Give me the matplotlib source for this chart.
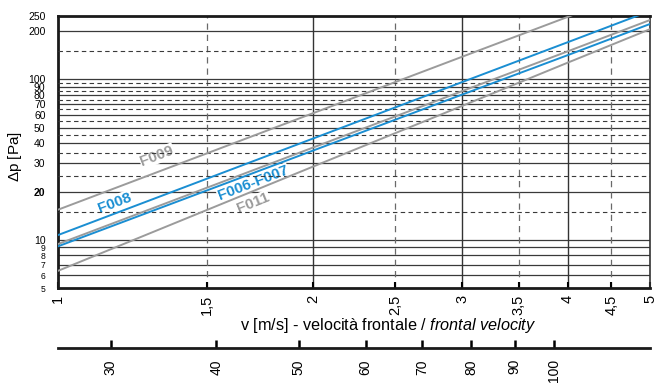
import matplotlib
matplotlib.use('Agg')
import matplotlib.pyplot as plt
from matplotlib.ticker import NullLocator

plt.rcParams['font.family'] = ['Liberation Sans', 'DejaVu Sans']
plt.rcParams['mathtext.fontset'] = 'custom'
plt.rcParams['mathtext.rm'] = 'Liberation Sans'
plt.rcParams['mathtext.it'] = 'Liberation Sans:italic'

# data (pressure drop at given frontal velocities)
v = [1, 2, 3, 4, 5]
dp_f009 = [15.4, 61.6, 138.6, 246, 385]
dp_f008 = [10.7, 42.8, 96.3, 171, 267.5]
dp_f006_grey = [9.4, 37.6, 84.6, 150, 235]
dp_f006_blue = [9.1, 36.0, 80.5, 142, 222]
dp_f011 = [6.4, 28.6, 68.4, 127.5, 206]

x_ticks = [1, 1.5, 2, 2.5, 3, 3.5, 4, 4.5, 5]
x_labels = ['1', '1,5', '2', '2,5', '3', '3,5', '4', '4,5', '5']
y_ticks = [5, 6, 7, 8, 9, 10, 20, 30, 40, 50, 60, 70, 80, 90, 100, 200, 250]
y_solid = [6, 7, 8, 9, 10, 20, 30, 40, 50, 60, 70, 80, 90, 100, 200]
y_dashed = [15, 25, 35, 45, 55, 65, 75, 85, 95, 150]
x_solid = [2, 3, 4]
x_dashed = [1.5, 2.5, 3.5, 4.5]

# secondary scale (bottom axis)
q_factor = 26
q_ticks = [30, 40, 50, 60, 70, 80, 90, 100]

BLUE = '#1a8ed2'
GREY = '#9b9b9b'

fig = plt.figure(figsize=(6.54, 3.83), dpi=100)
ax = fig.add_axes([0.0887, 0.248, 0.9052, 0.711])
ax.set_xscale('log')
ax.set_yscale('log')
ax.set_xlim(1, 5)
ax.set_ylim(5, 250)

for y in y_solid:
    ax.axhline(y, color='#3a3a3a', lw=0.9, zorder=1)
for y in y_dashed:
    ax.axhline(y, color='#3a3a3a', lw=0.8, ls=(0, (4, 3)), zorder=3)
for x in x_solid:
    ax.axvline(x, color='#333333', lw=1.0, zorder=1)
for x in x_dashed:
    ax.axvline(x, color='#6a6a6a', lw=0.9, ls=(0, (5, 4)), zorder=1)

ax.plot(v, dp_f009, color=GREY, lw=1.4, zorder=4)
ax.plot(v, dp_f008, color=BLUE, lw=1.4, zorder=4)
ax.plot(v, dp_f006_grey, color=GREY, lw=1.4, zorder=4)
ax.plot(v, dp_f006_blue, color=BLUE, lw=1.4, zorder=4)
ax.plot(v, dp_f011, color=GREY, lw=1.4, zorder=4)

lab = dict(fontsize=11, fontweight='bold', ha='center', va='center', zorder=2,
           bbox=dict(facecolor='white', edgecolor='none', pad=0.5))
ax.text(1.309, 33.3, 'F009', color=GREY, rotation=21, **lab)
ax.text(1.168, 17.0, 'F008', color=BLUE, rotation=21, **lab)
ax.text(1.70, 22.6, 'F006-F007', color=BLUE, rotation=21, **lab)
ax.text(1.70, 16.9, 'F011', color=GREY, rotation=22, **lab)

ax.set_xticks(x_ticks)
ax.set_xticklabels(x_labels, rotation=90, fontsize=10.5)
ax.xaxis.set_minor_locator(NullLocator())
ax.tick_params(axis='x', direction='in', length=4, width=1.5, pad=5)
ax.set_yticks(y_ticks)
ax.set_yticklabels([str(t) for t in y_ticks])
ax.yaxis.set_minor_locator(NullLocator())
ax.tick_params(axis='y', length=0, pad=9)
for t, lbl in zip(y_ticks, ax.get_yticklabels()):
    lbl.set_fontsize(6.2 if t < 10 else 7.5)
    if t == 20:
        lbl.set_fontweight('bold')

for s in ['left', 'bottom', 'top']:
    ax.spines[s].set_linewidth(2)
    ax.spines[s].set_color('#1a1a1a')
ax.spines['right'].set_linewidth(1.2)
ax.spines['right'].set_color('#333333')

fig.text(0.023, 0.59, r'$\Delta$p [Pa]', rotation=90, fontsize=11,
         ha='center', va='center')
fig.text(0.594, 0.149, r'v [m/s] - velocità frontale / $\it{frontal\ velocity}$',
         fontsize=11.7, ha='center', va='center')

ax2 = fig.add_axes([0.0887, 0.0914, 0.9052, 0.0001])
ax2.set_xscale('log')
ax2.set_xlim(1 * q_factor, 5 * q_factor)
ax2.set_xticks(q_ticks)
ax2.set_xticklabels([str(q) for q in q_ticks], rotation=90, fontsize=10)
ax2.xaxis.set_minor_locator(NullLocator())
ax2.set_yticks([])
ax2.patch.set_visible(False)
for s in ['left', 'right', 'top']:
    ax2.spines[s].set_visible(False)
ax2.spines['bottom'].set_linewidth(2)
ax2.spines['bottom'].set_color('#1a1a1a')
ax2.tick_params(axis='x', direction='in', length=6, width=1.8, pad=8)

fig.savefig('out.png', dpi=100)
